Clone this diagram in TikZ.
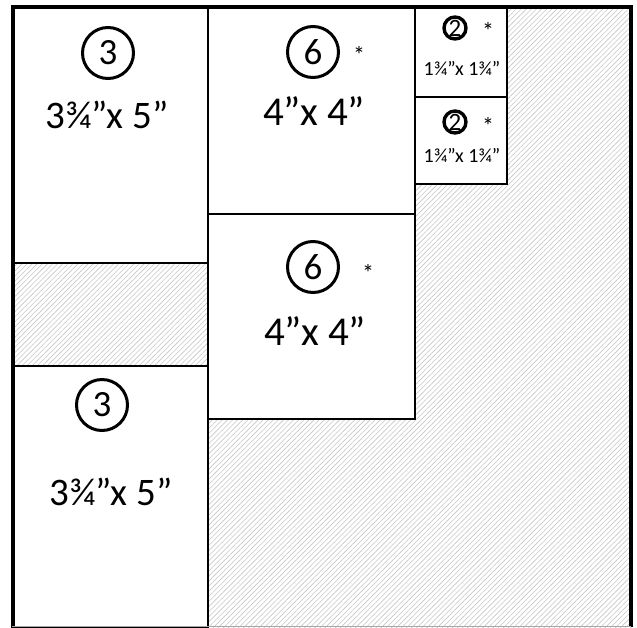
\documentclass[tikz,border=0pt]{standalone}
\usepackage{fontspec}
\setmainfont{Carlito}
\usetikzlibrary{patterns.meta}
\tikzset{
 hatch/.style={pattern={Lines[angle=45,distance=3.6pt,line width=0.6pt]}, pattern color=gray!45},
 piece/.style={draw=black, line width=1.8pt, fill=white},
 numcirc/.style={inner sep=0pt, font=\fontsize{37}{37}\selectfont},
 bigring/.style={draw=black, line width=3pt},
 smallcirc/.style={inner sep=0pt, font=\fontsize{25}{25}\selectfont},
 smallring/.style={draw=black, line width=3.4pt},
 bigtext/.style={font=\fontsize{41}{41}\selectfont, inner sep=0pt, anchor=base},
 fractext/.style={font=\fontsize{39}{39}\selectfont, inner sep=0pt, anchor=base},
 smalltext/.style={font=\fontsize{20}{20}\selectfont, inner sep=0pt, anchor=base},
 astmark/.style={font=\fontsize{24}{24}\selectfont, inner sep=0pt},
 frame/.style={draw=black, line width=4pt},
}
\begin{document}
\begin{tikzpicture}[x=1pt,y=-1pt]
\useasboundingbox (0,0) rectangle (637,627);
% hatched background
\path[hatch] (12,6) rectangle (631,627);
% pieces
\draw[piece] (12,6) rectangle (208,263);
\draw[piece] (12,366) rectangle (208,628);
\draw[piece] (208,6) rectangle (415,214);
\draw[piece] (208,214) rectangle (415,419);
\draw[piece] (415,6) rectangle (507,97);
\draw[piece] (415,97) rectangle (507,184);
% outer frame
\draw[frame] (12.5,627) -- (12.5,6.5) -- (631,6.5) -- (631,627);
\draw[gray!70, line width=1.2pt] (12,626.4) -- (631,626.4);
% labels
\node[numcirc] (n3a) at (108,53) {3};
\node[fractext] (t3a) at (107,128) {3¾”x 5”};
\node[numcirc] (n6a) at (313,52) {6};
\node[astmark] (s6a) at (359,55) {*};
\node[bigtext] (t6a) at (314,125) {4”x 4”};
\node[smallcirc] (n2a) at (455,28) {2};
\node[astmark] (s2a) at (488,31) {*};
\node[smalltext] (t2a) at (462,75) {1¾”x 1¾”};
\node[smallcirc] (n2b) at (455,122) {2};
\node[astmark] (s2b) at (488,126) {*};
\node[smalltext] (t2b) at (462,162) {1¾”x 1¾”};
\node[numcirc] (n6b) at (313,267) {6};
\node[astmark] (s6b) at (368,273) {*};
\node[bigtext] (t6b) at (315,345) {4”x 4”};
\node[numcirc] (n3b) at (102,405) {3};
\node[fractext] (t3b) at (111,505) {3¾”x 5”};
% rings
\foreach \n in {n3a,n6a,n6b,n3b} \draw[bigring] (\n.center) circle[radius=25.5];
\foreach \n in {n2a,n2b} \draw[smallring] (\n.center) circle[radius=11];
\end{tikzpicture}
\end{document}
